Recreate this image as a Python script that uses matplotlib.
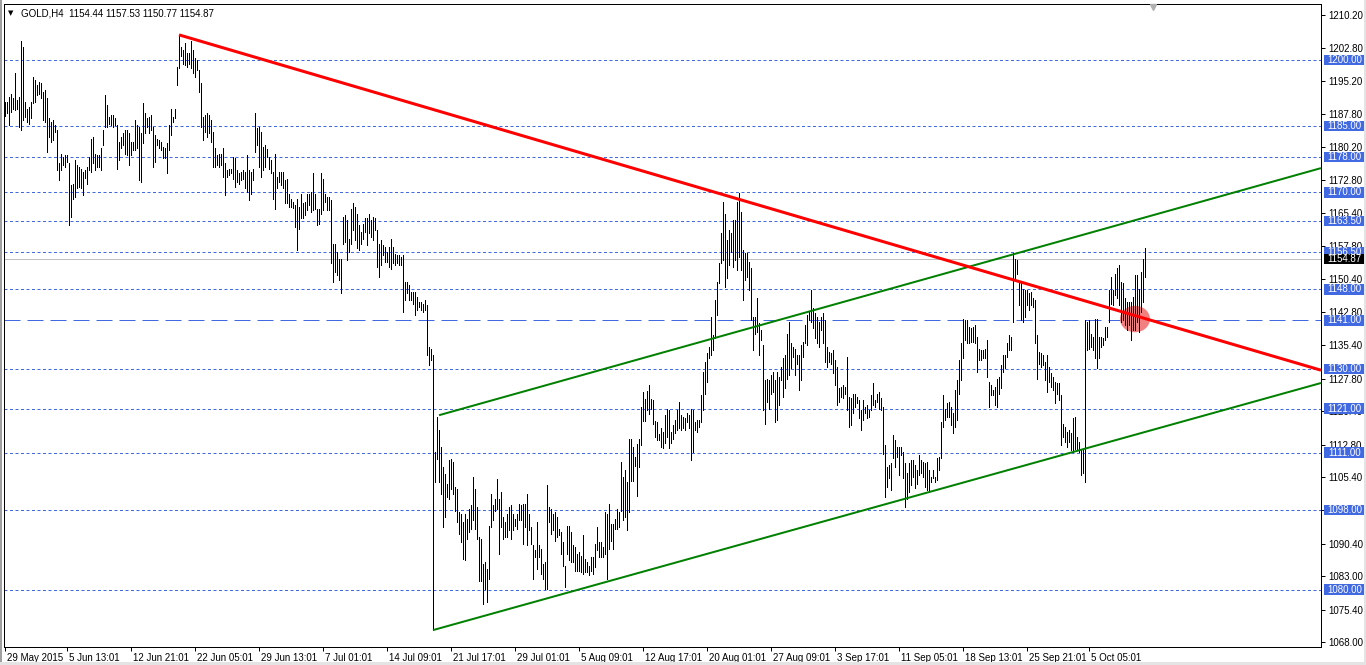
import matplotlib
matplotlib.use("Agg")
import matplotlib.pyplot as plt
import matplotlib.transforms as mtransforms
from matplotlib.patches import Rectangle, Ellipse

plt.rcParams['font.family'] = ['Liberation Sans', 'DejaVu Sans']

# ---------------- data ----------------
highs = [
    1190.5, 1190.5, 1191.7, 1192.4, 1191.3, 1197.0, 1190.9, 1191.7, 1204.2, 1203.0,
    1190.5, 1189.0, 1189.4, 1190.5, 1196.2, 1195.5, 1194.3, 1195.1, 1194.7, 1192.8,
    1193.2, 1191.3, 1186.8, 1186.0, 1186.4, 1185.3, 1184.1, 1176.6, 1178.8, 1178.1,
    1178.5, 1178.5, 1176.6, 1171.7, 1172.0, 1177.3, 1176.2, 1175.8, 1175.4, 1174.7,
    1175.1, 1175.8, 1178.1, 1182.2, 1182.6, 1178.8, 1178.5, 1178.5, 1180.0, 1184.1,
    1192.1, 1189.8, 1187.1, 1187.5, 1187.5, 1186.8, 1185.3, 1181.5, 1182.6, 1183.4,
    1184.1, 1184.1, 1183.4, 1181.5, 1181.5, 1186.4, 1185.3, 1184.9, 1183.4, 1190.2,
    1187.9, 1186.8, 1187.1, 1187.5, 1184.9, 1183.0, 1182.2, 1181.9, 1181.5, 1180.3,
    1180.0, 1181.1, 1185.3, 1189.0, 1187.1, 1189.0, 1198.5, 1205.7, 1203.0, 1202.3,
    1203.8, 1201.5, 1201.5, 1204.2, 1202.3, 1200.4, 1200.0, 1197.7, 1194.7, 1187.1,
    1187.5, 1187.9, 1187.5, 1186.4, 1183.7, 1180.0, 1178.5, 1178.8, 1178.8, 1180.0,
    1176.6, 1175.1, 1175.4, 1175.4, 1178.1, 1177.7, 1175.0, 1174.3, 1174.6, 1175.0,
    1174.6, 1178.4, 1175.0, 1174.6, 1175.4, 1187.9, 1184.5, 1184.9, 1183.7, 1180.3,
    1180.7, 1179.9, 1178.1, 1177.3, 1174.6, 1178.8, 1173.5, 1174.6, 1174.6, 1174.6,
    1172.8, 1173.1, 1169.7, 1168.6, 1167.8, 1167.1, 1168.6, 1166.7, 1169.7, 1167.5,
    1167.8, 1169.7, 1169.7, 1170.1, 1174.3, 1169.7, 1166.3, 1166.3, 1174.3, 1173.1,
    1169.7, 1169.0, 1169.0, 1168.2, 1158.4, 1158.4, 1156.5, 1155.0, 1155.0, 1164.4,
    1164.8, 1163.7, 1159.5, 1166.3, 1167.5, 1166.7, 1165.2, 1162.6, 1161.0, 1162.9,
    1164.1, 1164.1, 1165.2, 1163.7, 1164.4, 1164.1, 1161.4, 1158.4, 1159.2, 1158.0,
    1157.6, 1156.5, 1157.6, 1159.5, 1157.6, 1156.1, 1155.8, 1155.8, 1155.4, 1155.8,
    1149.7, 1149.7, 1148.9, 1147.4, 1147.4, 1147.4, 1146.3, 1145.2, 1145.2, 1144.8,
    1145.5, 1144.4, 1135.0, 1134.6, 1133.1, 1111.1, 1119.1, 1116.1, 1112.3, 1107.7,
    1106.2, 1104.0, 1109.3, 1109.6, 1108.9, 1103.2, 1102.8, 1097.5, 1097.2, 1095.3,
    1097.2, 1096.0, 1098.3, 1099.1, 1105.5, 1102.8, 1098.7, 1091.9, 1091.5, 1085.8,
    1086.2, 1084.7, 1094.5, 1101.7, 1099.1, 1100.6, 1105.1, 1100.6, 1102.1, 1096.4,
    1095.3, 1097.2, 1098.7, 1099.1, 1097.2, 1096.0, 1097.2, 1099.4, 1099.1, 1099.4,
    1099.4, 1101.7, 1097.2, 1094.1, 1090.0, 1088.9, 1095.3, 1090.0, 1089.2, 1085.8,
    1086.2, 1103.6, 1098.7, 1098.3, 1097.2, 1097.5, 1096.4, 1093.8, 1093.0, 1090.7,
    1085.4, 1094.5, 1094.5, 1093.0, 1090.0, 1089.6, 1088.1, 1088.5, 1087.7, 1092.3,
    1087.0, 1086.2, 1085.4, 1087.3, 1087.3, 1090.4, 1094.1, 1090.7, 1090.7, 1089.6,
    1097.5, 1097.2, 1099.4, 1094.9, 1094.9, 1096.0, 1098.3, 1097.5, 1108.9, 1105.5,
    1107.0, 1104.3, 1114.2, 1114.2, 1112.3, 1110.0, 1113.0, 1114.2, 1121.4, 1124.8,
    1123.2, 1125.1, 1126.3, 1123.2, 1122.9, 1118.3, 1118.0, 1115.3, 1116.5, 1115.7,
    1119.5, 1121.0, 1120.6, 1115.7, 1117.2, 1118.4, 1120.6, 1122.5, 1119.5, 1119.1,
    1118.8, 1119.9, 1119.5, 1121.0, 1120.6, 1118.0, 1118.4, 1118.4, 1124.0, 1129.3,
    1131.6, 1133.5, 1135.0, 1141.8, 1137.7, 1145.6, 1149.7, 1153.9, 1160.7, 1167.9,
    1165.2, 1159.2, 1161.5, 1160.7, 1163.7, 1163.7, 1167.9, 1169.8, 1165.6, 1156.9,
    1156.2, 1156.2, 1154.3, 1152.8, 1141.8, 1141.8, 1146.0, 1140.3, 1138.8, 1135.4,
    1127.4, 1127.8, 1127.4, 1128.6, 1129.3, 1127.4, 1129.3, 1128.2, 1130.5, 1132.4,
    1133.1, 1138.0, 1140.7, 1135.8, 1135.0, 1134.6, 1133.1, 1133.1, 1135.4, 1136.1,
    1139.9, 1142.2, 1142.9, 1147.9, 1143.7, 1142.6, 1141.8, 1140.7, 1141.8, 1142.6,
    1141.1, 1135.0, 1133.9, 1133.5, 1134.3, 1132.0, 1130.5, 1125.6, 1125.9, 1126.3,
    1125.9, 1132.7, 1123.7, 1123.3, 1124.4, 1124.4, 1123.7, 1122.9, 1120.6, 1122.9,
    1121.4, 1121.8, 1120.6, 1124.0, 1126.7, 1122.9, 1124.4, 1124.8, 1123.3, 1121.4,
    1112.7, 1107.8, 1108.2, 1108.6, 1115.0, 1113.8, 1112.3, 1112.3, 1112.3, 1111.2,
    1108.6, 1106.3, 1108.6, 1109.3, 1109.3, 1108.2, 1107.1, 1110.4, 1109.3, 1108.9,
    1108.6, 1108.9, 1107.1, 1105.5, 1107.1, 1105.5, 1109.7, 1110.1, 1118.0, 1124.1,
    1121.0, 1122.2, 1122.5, 1121.4, 1119.9, 1125.2, 1127.5, 1132.0, 1135.8, 1141.4,
    1141.1, 1141.1, 1139.5, 1139.2, 1139.5, 1139.9, 1137.3, 1134.6, 1134.3, 1134.3,
    1134.6, 1136.5, 1127.1, 1126.3, 1125.2, 1125.9, 1127.8, 1128.2, 1130.9, 1133.1,
    1133.1, 1135.8, 1137.7, 1137.3, 1156.2, 1155.0, 1154.7, 1149.8, 1149.4, 1148.2,
    1147.9, 1147.9, 1147.1, 1147.5, 1146.0, 1145.6, 1137.7, 1133.9, 1133.5, 1133.1,
    1131.6, 1133.1, 1130.5, 1129.0, 1128.2, 1127.1, 1126.7, 1126.7, 1124.1, 1117.6,
    1116.9, 1115.7, 1116.1, 1115.4, 1118.8, 1119.1, 1114.6, 1113.5, 1111.6, 1111.6,
    1141.1, 1140.7, 1141.1, 1138.0, 1137.3, 1141.4, 1141.4, 1137.3, 1137.3, 1136.9,
    1139.5, 1139.5, 1147.9, 1150.9, 1147.9, 1151.6, 1152.8, 1153.5, 1149.8, 1149.4,
    1146.0, 1145.2, 1145.2, 1145.2, 1146.4, 1151.3, 1151.3, 1148.2, 1152.0, 1155.0, 1157.5,
]
lows = [
    1187.3, 1187.9, 1185.3, 1188.3, 1189.0, 1188.7, 1189.0, 1184.9, 1184.1, 1186.4,
    1187.1, 1186.0, 1185.6, 1186.8, 1190.2, 1190.5, 1192.1, 1192.4, 1191.3, 1186.4,
    1186.0, 1179.2, 1182.6, 1181.5, 1181.9, 1183.7, 1175.1, 1172.8, 1175.1, 1176.2,
    1175.8, 1176.9, 1162.6, 1164.5, 1168.6, 1169.0, 1170.9, 1171.3, 1170.9, 1169.4,
    1173.2, 1172.0, 1175.1, 1174.7, 1176.6, 1175.1, 1175.8, 1175.8, 1175.1, 1180.7,
    1184.9, 1184.9, 1185.6, 1185.3, 1184.9, 1185.3, 1175.4, 1177.3, 1180.0, 1180.7,
    1178.8, 1178.5, 1176.2, 1178.5, 1179.6, 1179.6, 1180.0, 1172.8, 1172.4, 1181.1,
    1183.4, 1184.9, 1183.4, 1184.1, 1175.8, 1176.9, 1180.7, 1180.0, 1179.6, 1177.7,
    1177.7, 1174.3, 1179.6, 1183.0, 1186.0, 1186.8, 1194.3, 1198.1, 1200.8, 1199.2,
    1198.9, 1198.5, 1199.2, 1198.1, 1197.0, 1196.2, 1197.7, 1192.8, 1184.9, 1181.9,
    1183.7, 1182.6, 1183.4, 1181.5, 1175.8, 1175.8, 1176.2, 1175.8, 1176.2, 1173.5,
    1169.4, 1173.5, 1173.9, 1174.3, 1173.1, 1171.2, 1172.4, 1172.0, 1172.8, 1173.1,
    1170.9, 1170.1, 1168.2, 1169.7, 1172.8, 1179.2, 1180.7, 1175.8, 1173.5, 1175.0,
    1175.8, 1178.1, 1175.4, 1174.3, 1168.6, 1166.3, 1170.9, 1172.4, 1171.6, 1170.9,
    1167.5, 1167.5, 1166.7, 1166.7, 1166.4, 1162.2, 1156.9, 1161.8, 1164.1, 1164.1,
    1164.8, 1166.0, 1167.1, 1165.6, 1166.0, 1166.3, 1162.6, 1162.9, 1165.2, 1166.0,
    1167.8, 1166.0, 1166.0, 1153.9, 1149.7, 1152.0, 1151.2, 1150.1, 1147.1, 1158.4,
    1158.8, 1154.6, 1156.5, 1158.4, 1161.4, 1159.2, 1157.3, 1156.9, 1158.4, 1159.5,
    1161.0, 1158.0, 1160.7, 1159.9, 1159.2, 1161.4, 1153.1, 1150.8, 1153.5, 1155.8,
    1154.2, 1154.2, 1153.1, 1152.7, 1153.9, 1153.5, 1153.9, 1153.5, 1153.5, 1142.9,
    1145.5, 1147.1, 1145.5, 1145.5, 1144.8, 1142.1, 1143.3, 1144.0, 1143.3, 1142.9,
    1143.3, 1133.1, 1130.8, 1131.9, 1070.8, 1104.3, 1109.6, 1104.3, 1101.7, 1094.1,
    1096.4, 1100.9, 1100.6, 1102.8, 1101.7, 1097.9, 1095.3, 1092.6, 1090.7, 1087.0,
    1086.6, 1091.5, 1093.0, 1093.8, 1095.7, 1093.8, 1091.5, 1082.0, 1082.0, 1076.8,
    1080.2, 1077.1, 1082.4, 1094.1, 1095.7, 1097.9, 1098.3, 1088.1, 1094.1, 1091.5,
    1091.9, 1091.9, 1093.4, 1091.5, 1093.4, 1094.5, 1093.8, 1095.7, 1095.7, 1090.4,
    1094.1, 1090.0, 1093.4, 1090.4, 1082.4, 1087.3, 1084.7, 1087.3, 1083.6, 1082.4,
    1080.2, 1080.2, 1095.3, 1092.6, 1093.4, 1091.1, 1091.9, 1092.3, 1088.1, 1085.4,
    1080.5, 1088.1, 1086.6, 1086.2, 1086.2, 1084.3, 1084.3, 1084.3, 1083.9, 1083.6,
    1083.9, 1083.9, 1083.2, 1084.3, 1083.6, 1085.1, 1088.9, 1087.3, 1087.3, 1087.3,
    1088.1, 1082.4, 1089.2, 1091.1, 1089.2, 1093.8, 1093.8, 1094.1, 1097.9, 1095.7,
    1096.4, 1093.4, 1097.5, 1104.7, 1104.7, 1108.1, 1101.3, 1107.7, 1112.7, 1118.3,
    1118.3, 1120.6, 1119.8, 1121.0, 1117.6, 1114.6, 1113.8, 1113.8, 1112.3, 1112.0,
    1113.1, 1114.6, 1112.0, 1113.1, 1114.2, 1115.4, 1116.1, 1116.5, 1116.1, 1116.5,
    1116.1, 1118.0, 1116.5, 1109.3, 1111.2, 1116.1, 1115.7, 1116.9, 1118.0, 1120.6,
    1124.4, 1127.1, 1132.4, 1133.1, 1134.3, 1136.9, 1142.2, 1149.4, 1153.9, 1154.7,
    1148.6, 1150.5, 1153.5, 1156.5, 1153.1, 1154.7, 1152.4, 1155.4, 1152.4, 1145.6,
    1150.1, 1150.9, 1147.9, 1141.1, 1134.3, 1138.0, 1138.4, 1133.1, 1136.5, 1120.6,
    1117.6, 1122.5, 1121.0, 1124.4, 1124.8, 1118.0, 1118.4, 1121.8, 1127.4, 1123.7,
    1125.6, 1127.8, 1128.6, 1130.1, 1132.7, 1128.6, 1131.2, 1125.2, 1127.4, 1132.7,
    1135.8, 1135.4, 1141.1, 1140.7, 1139.2, 1136.9, 1135.8, 1135.0, 1138.8, 1135.8,
    1131.6, 1130.5, 1131.6, 1131.2, 1129.0, 1126.3, 1121.8, 1122.5, 1123.7, 1123.3,
    1124.4, 1120.6, 1116.9, 1117.2, 1119.9, 1121.4, 1122.2, 1118.8, 1116.1, 1118.4,
    1119.9, 1118.8, 1119.1, 1120.6, 1121.8, 1121.4, 1122.5, 1121.0, 1120.6, 1110.8,
    1101.0, 1103.3, 1105.2, 1102.5, 1109.7, 1107.8, 1110.1, 1105.9, 1110.4, 1105.2,
    1098.7, 1100.6, 1102.1, 1103.6, 1105.5, 1102.9, 1104.0, 1105.9, 1106.3, 1105.5,
    1103.3, 1102.5, 1102.5, 1104.4, 1105.2, 1104.4, 1104.8, 1107.1, 1109.7, 1116.9,
    1118.4, 1119.1, 1119.1, 1117.2, 1115.4, 1116.9, 1118.4, 1124.4, 1127.5, 1132.4,
    1136.5, 1135.8, 1135.8, 1136.1, 1136.1, 1135.8, 1129.3, 1132.0, 1132.0, 1132.4,
    1132.4, 1128.2, 1121.4, 1124.1, 1124.1, 1121.8, 1121.4, 1124.4, 1125.6, 1129.3,
    1130.1, 1132.7, 1134.3, 1134.3, 1140.7, 1150.5, 1151.6, 1144.5, 1141.1, 1140.7,
    1141.8, 1144.5, 1143.3, 1144.5, 1144.1, 1135.8, 1127.8, 1131.2, 1130.5, 1130.9,
    1127.5, 1124.8, 1127.1, 1125.9, 1125.2, 1122.2, 1124.4, 1122.9, 1112.7, 1114.6,
    1113.5, 1112.3, 1113.5, 1111.6, 1111.2, 1111.9, 1111.9, 1111.2, 1105.9, 1106.5,
    1104.4, 1134.3, 1134.6, 1135.0, 1134.3, 1132.4, 1130.1, 1132.4, 1135.0, 1135.4,
    1136.5, 1137.3, 1140.7, 1144.8, 1144.5, 1146.7, 1146.0, 1144.5, 1140.7, 1141.1,
    1139.9, 1138.8, 1139.9, 1136.5, 1138.8, 1138.8, 1140.7, 1138.4, 1143.0, 1145.2, 1150.8,
]

x_tick_pos = [0, 31, 63, 95, 127, 159, 191, 223, 255, 287, 319, 351, 383, 415, 447, 479, 511, 542]
x_tick_labels = ["29 May 2015", "5 Jun 13:01", "12 Jun 21:01", "22 Jun 05:01", "29 Jun 13:01",
                 "7 Jul 01:01", "14 Jul 09:01", "21 Jul 17:01", "29 Jul 01:01", "5 Aug 09:01",
                 "12 Aug 17:01", "20 Aug 01:01", "27 Aug 09:01", "3 Sep 17:01", "11 Sep 05:01",
                 "18 Sep 13:01", "25 Sep 21:01", "5 Oct 05:01"]
y_ticks = [1210.20, 1202.80, 1195.20, 1187.80, 1180.20, 1172.80, 1165.40, 1157.80, 1150.40,
           1142.80, 1135.40, 1127.80, 1120.40, 1112.80, 1105.40, 1098.00, 1090.40, 1083.00,
           1075.40, 1068.00]
levels = [1200.0, 1185.0, 1178.0, 1170.0, 1163.5, 1156.5, 1148.0, 1130.0, 1121.0, 1111.0, 1098.0, 1080.0]
key_level = 1141.0
last_price = 1154.87
header = "GOLD,H4  1154.44 1157.53 1150.77 1154.87"

red_x, red_y = [87, 658], [1205.7, 1129.7]
gup_x, gup_y = [217, 658], [1119.5, 1175.5]
glo_x, glo_y = [214, 658], [1070.8, 1126.8]
marker_x, marker_y = 565, 1141.3

# ---------------- figure ----------------
W, H = 1366, 665
fig = plt.figure(figsize=(W / 100, H / 100), dpi=100)
fig.patch.set_facecolor("white")
ax_l, ax_r, ax_t, ax_b = 4, 1321, 4, 647
ax = fig.add_axes([ax_l / W, (H - ax_b) / H, (ax_r - ax_l) / W, (ax_b - ax_t) / H])
ax.set_facecolor("white")

px = 0.72  # one pixel in points
n = min(len(highs), len(lows))
idx = list(range(n))

blue = "#4169E1"
for lv in levels:
    ax.axhline(lv, color=blue, lw=px, dashes=(3, 2.5), zorder=1)
ax.axhline(key_level, color=blue, lw=px, dashes=(16, 7), zorder=1)
ax.axhline(last_price, color="#c0c0c0", lw=px, zorder=1)

ax.add_patch(Ellipse((marker_x, marker_y), 15, 6.0, facecolor="#f28080", edgecolor="none",
                     zorder=1.5))

ax.vlines(idx, lows[:n], highs[:n], colors="black", lw=0.68, antialiased=False, zorder=2)

ax.plot(gup_x, gup_y, color="#008000", lw=2 * px, zorder=3, solid_capstyle="butt")
ax.plot(glo_x, glo_y, color="#008000", lw=2 * px, zorder=3, solid_capstyle="butt")
ax.plot(red_x, red_y, color="#ff0000", lw=3 * px, zorder=3.2, solid_capstyle="butt")

ax.set_xlim(-0.5, 658)
ylo = 1210.2 - (ax_b - 15) / 4.4125
yhi = 1210.2 + (15 - ax_t) / 4.4125
ax.set_ylim(ylo, yhi)

for s in ax.spines.values():
    s.set_color("black")
    s.set_linewidth(px)

ax.yaxis.tick_right()
ax.set_yticks(y_ticks)
ax.set_yticklabels([f"{v:.2f}" for v in y_ticks])
ax.tick_params(axis="y", direction="out", length=3, width=px, pad=2, labelsize=7, colors="black")

ax.set_xticks(x_tick_pos)
ax.set_xticklabels(x_tick_labels)
ax.tick_params(axis="x", direction="out", length=3, width=px, pad=1, labelsize=7, colors="black")
off = mtransforms.ScaledTranslation(2 / 100, 0, fig.dpi_scale_trans)
for lbl in ax.get_xticklabels():
    lbl.set_horizontalalignment("left")
    lbl.set_transform(lbl.get_transform() + off)

# right-side price boxes
bt = mtransforms.blended_transform_factory(ax.transAxes, ax.transData)
bx0 = (1324 - ax_l) / (ax_r - ax_l)
bw = 41 / (ax_r - ax_l)
bh = 10.5 / 4.4125
for lv, col in [(v, blue) for v in levels + [key_level]] + [(last_price, "black")]:
    ax.add_patch(Rectangle((bx0, lv - bh / 2), bw, bh, transform=bt, facecolor=col,
                           edgecolor="none", clip_on=False, zorder=10))
    ax.text(bx0 + bw / 2, lv, f"{lv:.2f}", transform=bt, color="white", fontsize=7,
            ha="center", va="center", clip_on=False, zorder=11)

# header
fig.text(8 / W, 1 - 13 / H, "\u25BC", fontsize=5, family="DejaVu Sans", va="center", ha="left")
fig.text(21 / W, 1 - 13 / H, header, fontsize=7, va="center", ha="left")

# chart shift marker at top
ax.plot([574], [yhi - 0.6], marker="v", markersize=5, color="#b0b0b0", clip_on=False, zorder=5)

# window borders
fig.patches.append(Rectangle((0, 0), 2 / W, 1, transform=fig.transFigure, facecolor="#a0a0a0",
                             edgecolor="none", zorder=0))
fig.patches.append(Rectangle((0, 0), 1, 3 / H, transform=fig.transFigure, facecolor="#e4e4e4",
                             edgecolor="none", zorder=0))
fig.patches.append(Rectangle((1 - 2 / W, 0), 2 / W, 1, transform=fig.transFigure, facecolor="#e4e4e4",
                             edgecolor="none", zorder=0))

fig.savefig("out.png", dpi=100)
